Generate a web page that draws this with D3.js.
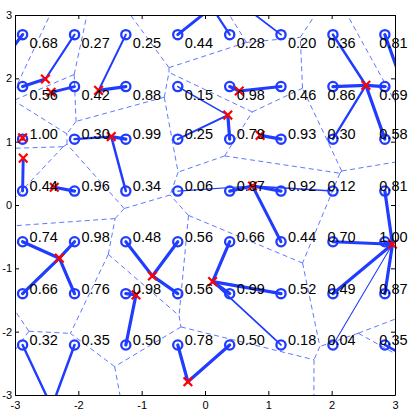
<!DOCTYPE html>
<html><head><meta charset="utf-8">
<script src="https://cdn.jsdelivr.net/npm/d3@7"></script>
<style>body{margin:0;background:#fff}svg{display:block}</style>
</head><body>
<script>
// ---- data ----
const colX = [-2.88, -2.06, -1.25, -0.43, 0.39, 1.20, 2.02, 2.84];
const rowY = [2.69, 1.87, 1.04, 0.22, -0.58, -1.40, -2.21];
const gridValues = [
  [0.68, 0.27, 0.25, 0.44, 0.28, 0.20, 0.36, 0.81],
  [0.56, 0.42, 0.88, 0.15, 0.98, 0.46, 0.86, 0.69],
  [1.00, 0.30, 0.99, 0.25, 0.79, 0.93, 0.30, 0.58],
  [0.44, 0.96, 0.34, 0.06, 0.97, 0.92, 0.12, 0.81],
  [0.74, 0.98, 0.48, 0.56, 0.66, 0.44, 0.70, 1.00],
  [0.66, 0.76, 0.98, 0.56, 0.99, 0.52, 0.49, 0.87],
  [0.32, 0.35, 0.50, 0.78, 0.50, 0.18, 0.04, 0.35]
];
const centerNames = ["A","B","C","D","E","F","G","H","I","J","K","L","M","N","O","P","Q","R","TL","T1","T2","TR","BL","LL","BR","BR2"];
const centerX = [-2.52,-2.43,-1.68,0.36,0.54,2.54,-2.88,-1.48,0.87,-2.87,-2.38,0.75,2.96,-2.30,-0.83,-1.09,0.12,-0.27,-3.18,0.11,0.40,3.03,-2.42,-4.03,3.76,3.71];
const centerY = [1.99,1.78,1.81,1.42,1.80,1.89,1.06,1.08,1.10,0.74,0.28,0.30,-0.62,-0.84,-1.12,-1.42,-1.21,-2.79,2.30,3.12,3.30,2.16,-3.19,-2.01,-2.71,-2.80];
const assignment = [
  ["TL","A","C","T1","T1","T2","F","TR"],
  ["A","B","C","D","E","E","F","F"],
  ["G","H","H","D","D","I","F","F"],
  ["J","K","H","L","L","L","L","M"],
  ["N","N","O","O","Q","L","M","M"],
  ["N","N","P","O","Q","Q","M","M"],
  ["BL","BL","P","R","R","Q","M","BR"]
];
const xTicks = [-3,-2,-1,0,1,2,3];
const yTicks = [-3,-2,-1,0,1,2,3];

// ---- layout ----
const W = 415, H = 411;
const x = d3.scaleLinear().domain([-3,3]).range([15,395]);
const y = d3.scaleLinear().domain([-3,3]).range([395,15]);
const BLUE = "#1f3cff", RED = "#ff0000";
const font = "'Liberation Sans', Arial, Helvetica, sans-serif";

const svg = d3.select("body").append("svg").attr("width",W).attr("height",H);
svg.append("rect").attr("width",W).attr("height",H).attr("fill","#fff");
svg.append("clipPath").attr("id","plot").append("rect")
  .attr("x",15.5).attr("y",15.5).attr("width",380).attr("height",380);

const centers = centerNames.map((n,i)=>({name:n, x:centerX[i], y:centerY[i]}));
const cIndex = new Map(centers.map(c=>[c.name,c]));

const points = [];
gridValues.forEach((row,r)=>row.forEach((v,c)=>{
  points.push({r, c, x: colX[c], y: rowY[r], v, target: cIndex.get(assignment[r][c])});
}));

// Voronoi of the centres (dashed)
const delaunay = d3.Delaunay.from(centers, d=>x(d.x), d=>y(d.y));
const vor = delaunay.voronoi([-3000,-3000,3000,3000]);
svg.append("path").attr("clip-path","url(#plot)")
  .attr("d", vor.render())
  .attr("fill","none").attr("stroke","#4d68ff").attr("stroke-width",0.9)
  .attr("stroke-dasharray","5,3.5");

// assignment links
const wScale = d3.scaleLinear().domain([0,0.5]).range([0.9,3.2]).clamp(true);
svg.append("g").attr("clip-path","url(#plot)")
  .selectAll("line").data(points).join("line")
  .attr("x1",d=>x(d.x)).attr("y1",d=>y(d.y))
  .attr("x2",d=>x(d.target.x)).attr("y2",d=>y(d.target.y))
  .attr("stroke",BLUE).attr("stroke-width",d=>wScale(d.v)).attr("stroke-linecap","round");

// grid circles
svg.append("g").selectAll("circle").data(points).join("circle")
  .attr("cx",d=>x(d.x)).attr("cy",d=>y(d.y)).attr("r",4.6)
  .attr("fill","none").attr("stroke",BLUE).attr("stroke-width",2.3);

// red crosses (only those inside the axes)
const vis = centers.filter(c=>c.x>=-3 && c.x<=3 && c.y>=-3 && c.y<=3);
const s = 4.3;
svg.append("g").selectAll("path").data(vis).join("path")
  .attr("d",d=>{const px=x(d.x), py=y(d.y);
    return `M${px-s},${py-s}L${px+s},${py+s}M${px-s},${py+s}L${px+s},${py-s}`;})
  .attr("stroke",RED).attr("stroke-width",2.2).attr("fill","none");

// value labels
svg.append("g").selectAll("text").data(points).join("text")
  .attr("x",d=>x(d.x) + (d.c < 6 ? 7 : -5.5))
  .attr("y",d=>y(d.y) + (d.r < 2 ? 13 : 0))
  .attr("font-family",font).attr("font-size",14.5).attr("fill","#000")
  .text(d=>d3.format(".2f")(d.v));

// axes (box with inward ticks)
const fmt = d=>String(d);
const gB = svg.append("g").attr("transform","translate(0,395)")
  .call(d3.axisBottom(x).tickValues(xTicks).tickFormat(fmt).tickSizeInner(-4).tickSizeOuter(0).tickPadding(6));
const gT = svg.append("g").attr("transform","translate(0,15)")
  .call(d3.axisTop(x).tickValues(xTicks).tickFormat("").tickSizeInner(-4).tickSizeOuter(0));
const gL = svg.append("g").attr("transform","translate(15,0)")
  .call(d3.axisLeft(y).tickValues(yTicks).tickFormat(fmt).tickSizeInner(-4).tickSizeOuter(0).tickPadding(3));
const gR = svg.append("g").attr("transform","translate(395,0)")
  .call(d3.axisRight(y).tickValues(yTicks).tickFormat("").tickSizeInner(-4).tickSizeOuter(0));
[gB,gT,gL,gR].forEach(g=>{
  g.selectAll("text").attr("font-family",font).attr("font-size",11).attr("fill","#000");
  g.selectAll("path,line").attr("stroke","#000");
});
</script>
</body></html>
